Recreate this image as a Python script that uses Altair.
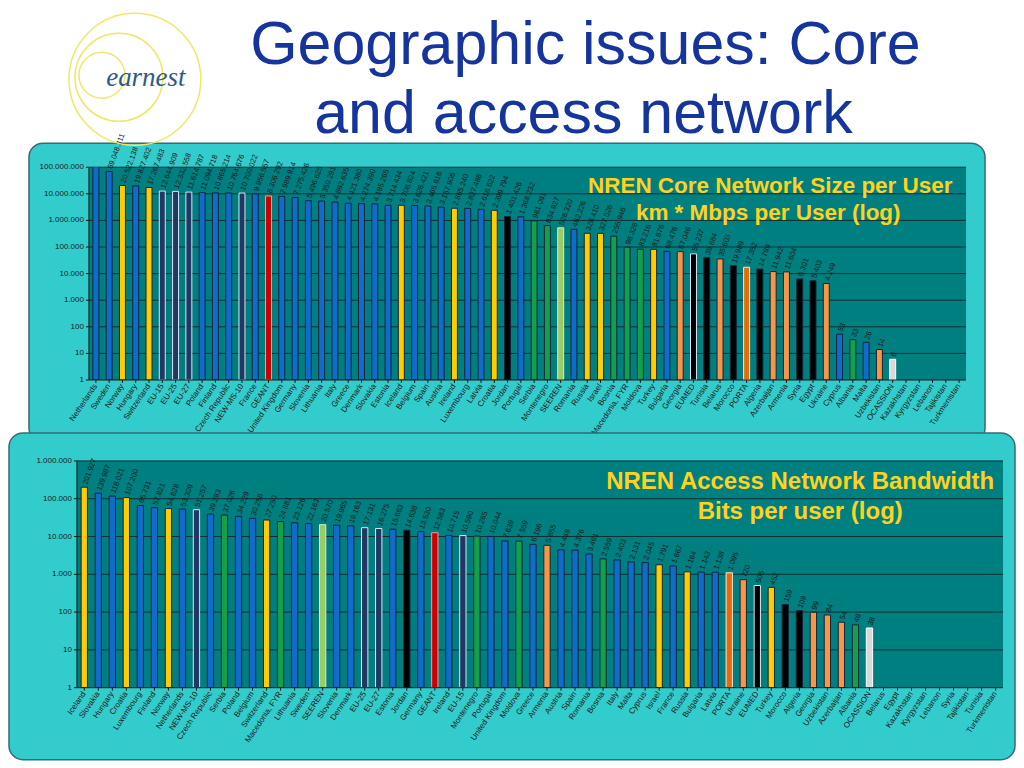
import altair as alt
import pandas as pd

# ---------------- data: core network size per user (km * Mbps per user) ----------------
core_names = ["Netherlands", "Sweden", "Norway", "Hungary", "Switzerland", "EU-15", "EU-25", "EU-27",
              "Poland", "Finland", "Czech Republic", "NEW-MS-10", "France", "GEANT", "United Kingdom",
              "Germany", "Slovenia", "Lithuania", "Italy", "Greece", "Denmark", "Slovakia", "Estonia",
              "Iceland", "Belgium", "Spain", "Austria", "Ireland", "Luxembourg", "Latvia", "Croatia",
              "Jordan", "Portugal", "Serbia", "Montenegro", "SEEREN", "Romania", "Russia", "Israel",
              "Bosnia", "Macedonia, FYR", "Moldova", "Turkey", "Bulgaria", "Georgia", "EUMED", "Tunisia",
              "Belarus", "Morocco", "PORTA", "Algeria", "Azerbaijan", "Armenia", "Syria", "Egypt",
              "Ukraine", "Cyprus", "Albania", "Malta", "Uzbekistan", "OCASSION", "Kazakhstan",
              "Kyrgyzstan", "Lebanon", "Tajikistan", "Turkmenistan"]
core_values = [140000000, 69048311, 20522138, 19827402, 17267483, 12644909, 12332558, 11614787,
               11094718, 10865214, 10764676, 10700022, 9956557, 8306292, 7989914,
               7275426, 5496625, 5350291, 4892635, 4421380, 4274390, 4195265, 3714434,
               3706824, 3626421, 3465616, 3157906, 2865240, 2827488, 2616622, 2399794,
               1401426, 1368232, 961091, 634927, 526320, 462226, 328410, 327026,
               255946, 98326, 83216, 81876, 68476, 67046, 55237, 39884,
               35603, 19989, 17352, 14799, 11942, 11604, 6301, 5403,
               4249, 53, 33, 26, 14, 6, None,
               None, None, None, None]
core_groups = ["EU", "EU", "Other", "EU", "Other", "EU total", "EU total", "EU total",
               "EU", "EU", "EU", "EU total", "EU", "GEANT", "EU",
               "EU", "EU", "EU", "EU", "EU", "EU", "EU", "EU",
               "Other", "EU", "EU", "EU", "Other", "EU", "EU", "Other",
               "Mediterranean", "EU", "SEE", "SEE", "SEEREN", "EU", "Other", "Other",
               "SEE", "SEE", "SEE", "Other", "EU", "EECA", "EUMED", "Mediterranean",
               "EECA", "Mediterranean", "PORTA", "Mediterranean", "EECA", "EECA", "Mediterranean", "Mediterranean",
               "EECA", "EU", "SEE", "EU", "EECA", "OCASSION", "EECA",
               "EECA", "Mediterranean", "EECA", "EECA"]
core_ticks = [1, 10, 100, 1000, 10000, 100000, 1000000, 10000000, 100000000]

# ---------------- data: access network bandwidth (bits per user) ----------------
access_names = ["Iceland", "Slovakia", "Hungary", "Croatia", "Luxembourg", "Finland", "Norway",
                "Netherlands", "NEW-MS-10", "Czech Republic", "Serbia", "Poland", "Belgium",
                "Switzerland", "Macedonia, FYR", "Lithuania", "Sweden", "SEEREN", "Slovenia", "Denmark",
                "EU-25", "EU-27", "Estonia", "Jordan", "Germany", "GEANT", "Ireland", "EU-15",
                "Montenegro", "Portugal", "United Kingdom", "Moldova", "Greece", "Armenia", "Austria",
                "Spain", "Romania", "Bosnia", "Italy", "Malta", "Cyprus", "Israel", "France", "Russia",
                "Bulgaria", "Latvia", "PORTA", "Ukraine", "EUMED", "Turkey", "Morocco", "Algeria",
                "Georgia", "Uzbekistan", "Azerbaijan", "Albania", "OCASSION", "Belarus", "Egypt",
                "Kazakhstan", "Kyrgyzstan", "Lebanon", "Syria", "Tajikistan", "Tunisia", "Turkmenistan"]
access_values = [201927, 139987, 118021, 107200, 65731, 57821, 54828,
                 53309, 51257, 39283, 37026, 34229, 30258,
                 27250, 24881, 23126, 22163, 20570, 19965, 19163,
                 17131, 16275, 15663, 14638, 13530, 12583, 10715, 10590,
                 10265, 10044, 7639, 7559, 6196, 5855, 4448,
                 4376, 3461, 2559, 2403, 2131, 2045, 1791, 1667, 1164,
                 1143, 1138, 1095, 720, 505, 452, 159, 109,
                 99, 84, 54, 46, 38, None, None,
                 None, None, None, None, None, None, None]
access_groups = ["Other", "EU", "EU", "Other", "EU", "EU", "Other",
                 "EU", "EU total", "EU", "SEE", "EU", "EU",
                 "Other", "SEE", "EU", "EU", "SEEREN", "EU", "EU",
                 "EU total", "EU total", "EU", "Mediterranean", "EU", "GEANT", "EU", "EU total",
                 "SEE", "EU", "EU", "SEE", "EU", "EECA", "EU",
                 "EU", "EU", "SEE", "EU", "EU", "EU", "Other", "EU", "Other",
                 "EU", "EU", "PORTA", "EECA", "EUMED", "Other", "Mediterranean", "Mediterranean",
                 "EECA", "EECA", "EECA", "SEE", "OCASSION", "EECA", "Mediterranean",
                 "EECA", "EECA", "Mediterranean", "Mediterranean", "EECA", "Mediterranean", "EECA"]
access_ticks = [1, 10, 100, 1000, 10000, 100000, 1000000]

# ---------------- styling ----------------
FONT = "Liberation Sans"
GOLD = "#ffd21f"
DARK = "#14233b"
AXIS = "#1a1a1a"
DOTS = "replace(format(datum.{f}, ','), regexp(',', 'g'), '.')"

group_order = ["EU", "Other", "EU total", "GEANT", "Mediterranean", "EUMED", "SEE", "SEEREN",
               "EECA", "PORTA", "OCASSION"]
core_fill = ["#0f6cc8", "#ffcc00", "#1f3864", "#cc0000", "#000000", "#000000", "#12a04a", "#99cc66",
             "#f79646", "#e46c0a", "#d9d9d9"]
access_fill = ["#0f6cc8", "#ffcc00", "#1f3864", "#cc0000", "#000000", "#000000", "#12a04a", "#99cc66",
               "#f08a4b", "#f9b48a", "#fabf8f"]
stroke_range = [DARK, DARK, "#dce6f2", "#ff9999", DARK, "#dce6f2", DARK, "#d8f0b0",
                DARK, "#fde9d9", "#ffffff"]

one = pd.DataFrame({"k": [0]})


def deco_rect(x, x2, y, y2, **kw):
    return alt.Chart(one).mark_rect(**kw).encode(
        x=alt.value(x), x2=alt.value(x2), y=alt.value(y), y2=alt.value(y2))


def deco_text(txt, x, y, **kw):
    return alt.Chart(one).mark_text(**kw).encode(
        x=alt.value(x), y=alt.value(y), text=alt.value(txt))


def ring(cx, cy, d):
    return alt.Chart(one).mark_point(shape="circle", filled=False, size=d * d, color="#eee86a",
                                     strokeWidth=1.5, opacity=1).encode(x=alt.value(cx), y=alt.value(cy))


def bar_panel(names, values, groups, ticks, fills, x0, x1, H, frame, panel, titles, title_size,
              extra=()):
    df = pd.DataFrame({"name": names, "v": values, "grp": groups})
    tdf = pd.DataFrame({"t": ticks})
    top = ticks[-1]
    xscale = alt.Scale(domain=names, range=[x0, x1], paddingInner=0.55, paddingOuter=0.3)
    yscale = alt.Scale(type="log", domain=[ticks[0], top], nice=False)
    X = alt.X("name:N", sort=names, scale=xscale, axis=None)

    layers = [
        deco_rect(frame[0], frame[1], frame[2], frame[3], fill="#ffffff"),
        deco_rect(panel[0], panel[1], panel[2], panel[3], fill="#33cccc", stroke="#356b73",
                  strokeWidth=1.5, cornerRadius=14),
        deco_rect(x0, x1, 0, H, fill="#007f80"),
    ]
    grid = alt.Chart(tdf).transform_filter(f"datum.t > {ticks[0]}").mark_rule(
        color="#0d3030", strokeWidth=1).encode(
        y=alt.Y("t:Q", scale=yscale, axis=None), x=alt.value(x0), x2=alt.value(x1))
    bars = alt.Chart(df).transform_filter("datum.v > 0").mark_bar(clip=True, strokeWidth=1).encode(
        x=X,
        y=alt.Y("v:Q", scale=yscale, axis=None),
        y2=alt.datum(ticks[0]),
        color=alt.Color("grp:N", scale=alt.Scale(domain=group_order, range=fills), legend=None),
        stroke=alt.Stroke("grp:N", scale=alt.Scale(domain=group_order, range=stroke_range), legend=None),
    )
    labels = alt.Chart(df).transform_filter(f"datum.v > 0 && datum.v <= {top}").transform_calculate(
        lab=DOTS.format(f="v")
    ).mark_text(angle=290, align="left", baseline="middle", dx=3, fontSize=7.5, font=FONT,
                color="#1a1a1a").encode(
        x=X, y=alt.Y("v:Q", scale=yscale, axis=None), text="lab:N")

    # hand-made axes (drawn above the panel decorations)
    y_dom = alt.Chart(one).mark_rule(color=AXIS, strokeWidth=1).encode(
        x=alt.value(x0), y=alt.value(0), y2=alt.value(H))
    x_dom = alt.Chart(one).mark_rule(color=AXIS, strokeWidth=1).encode(
        x=alt.value(x0), x2=alt.value(x1), y=alt.value(H))
    y_ticks = alt.Chart(tdf).mark_rule(color=AXIS, strokeWidth=1).encode(
        y=alt.Y("t:Q", scale=yscale, axis=None), x=alt.value(x0 - 3), x2=alt.value(x0))
    y_labels = alt.Chart(tdf).transform_calculate(lab=DOTS.format(f="t")).mark_text(
        align="right", baseline="middle", fontSize=8, font=FONT, color=AXIS).encode(
        y=alt.Y("t:Q", scale=yscale, axis=None), x=alt.value(x0 - 5), text="lab:N")
    x_ticks = alt.Chart(df).mark_rule(color=AXIS, strokeWidth=1).encode(
        x=X, y=alt.value(H), y2=alt.value(H + 3))
    x_labels = alt.Chart(df).mark_text(angle=304, align="right", baseline="middle", fontSize=8,
                                       font=FONT, color=AXIS).encode(
        x=X, y=alt.value(H + 5), text="name:N")

    layers += [grid, bars, labels, y_dom, x_dom, y_ticks, y_labels, x_ticks, x_labels]
    for txt, tx, ty in titles:
        layers.append(deco_text(txt, tx, ty, font=FONT, fontSize=title_size, fontWeight="bold",
                                color=GOLD, align="center", baseline="middle"))
    layers += list(extra)
    return alt.layer(*layers).properties(width=x1, height=H)


# ---------------- top: core network (origin at page x 76, y 167) ----------------
H1 = 213
logo = [
    ring(58, -88, 132),
    ring(42, -90, 88),
    ring(25, -92, 46),
    deco_text("earnest", 69, -89, font="Liberation Serif", fontStyle="italic", fontSize=27,
              color="#2b5b86", align="center", baseline="middle"),
    deco_text("Geographic issues: Core", 509, -103, font=FONT, fontSize=61, color="#16359c",
              align="center", baseline="alphabetic"),
    deco_text("and access network", 507, -34, font=FONT, fontSize=61, color="#16359c",
              align="center", baseline="alphabetic"),
]
top_chart = bar_panel(
    core_names, core_values, core_groups, core_ticks, core_fill, 12, 890, H1,
    frame=(-68, 938, -159, 279), panel=(-48, 909, -24, 275),
    titles=[("NREN Core Network Size per User", 694, 19), ("km * Mbps per User (log)", 692, 46)],
    title_size=22.5, extra=logo,
)

# ---------------- bottom: access network (origin at page x 76, y 460) ----------------
H2 = 227
bottom_chart = bar_panel(
    access_names, access_values, access_groups, access_ticks, access_fill, 0, 927, H2,
    frame=(-68, 939, -28, 299), panel=(-68, 939, -28, 299),
    titles=[("NREN Access Network Bandwidth", 724, 21), ("Bits per user (log)", 724, 51)],
    title_size=24,
)

chart = alt.vconcat(top_chart, bottom_chart, spacing=-14, padding=0).configure_view(stroke=None)

chart.save("out.html", embed_options={"renderer": "svg", "actions": False})
